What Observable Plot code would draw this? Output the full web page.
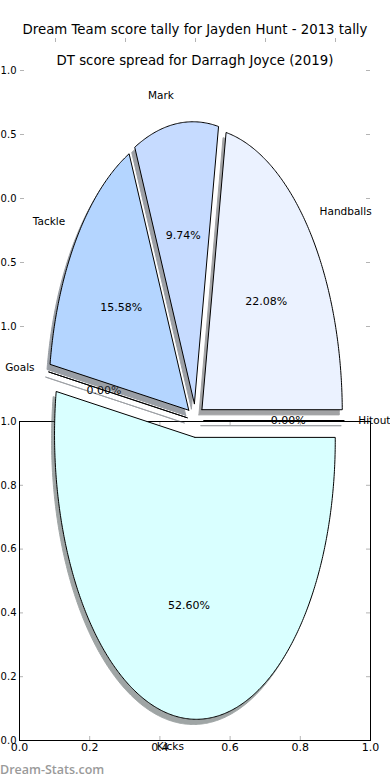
<!DOCTYPE html>
<html><head><meta charset="utf-8">
<script src="https://cdn.jsdelivr.net/npm/d3@7"></script>
<script src="https://cdn.jsdelivr.net/npm/@observablehq/plot@0.6"></script>
<style>
body{margin:0;background:#fff;}
#fig{position:relative;width:390px;height:780px;overflow:hidden;font-family:"DejaVu Sans",sans-serif;}
.title{position:absolute;left:0;width:390px;text-align:center;font-size:13.3px;line-height:15px;color:#000;white-space:nowrap;}
.mark{position:absolute;left:0;font-family:"Open Sans",sans-serif;font-weight:600;font-size:12.5px;line-height:15px;color:#9a9a9a;white-space:nowrap;}
</style></head><body><div id="fig"></div>
<script>
// ---- data ----
const categories = ["Kicks", "Hitout", "Handballs", "Mark", "Tackle", "Goals"];
const percentages = [52.60, 0.00, 22.08, 9.74, 15.58, 0.00];
const wedgeColors = ["#d9ffff", "#d2e6ff", "#ebf2ff", "#c6dbff", "#b4d5ff", "#cfe2ff"];
const explode = [0.06, 0.06, 0.06, 0.06, 0.06, 0.06];
const upperTicks = [-1, -0.5, 0, 0.5, 1];
const lowerTicks = [0, 0.2, 0.4, 0.6, 0.8, 1];
const titleOld = "Dream Team score tally for Jayden Hunt - 2013 tally";
const titleNew = "DT score spread for Darragh Joyce (2019)";
const watermark = "Dream-Stats.com";

// ---- layout ----
const W = 390, H = 780;
const pieCenterY = 420, pieRadiusY = 281;
const shearY = 0.082, shearX = 0.0714;
const labelDistance = 1.1, pctDistance = 0.6, shadowOffset = -0.02;
const font = "DejaVu Sans";
const tickGray = "#b4b4b4";

const fig = document.getElementById("fig");
function add(el) { el.style.position = "absolute"; el.style.left = "0"; el.style.top = "0"; fig.appendChild(el); return el; }
function addDiv(cls, text, top) { const d = document.createElement("div"); d.className = cls; d.textContent = text; d.style.top = top + "px"; fig.appendChild(d); }

// ---- pie geometry from the values ----
const rad = d => d * Math.PI / 180;
const toPlot = (X, Y) => ({x: X + shearX * Y, y: Y - shearY * X});
let angle = 270 - 3.6 * percentages[0] / 2;
const wedges = categories.map((name, i) => {
  const span = 3.6 * percentages[i];
  const t1 = angle, t2 = angle + span; angle = t2;
  const mid = rad((t1 + t2) / 2);
  const cx = explode[i] * Math.cos(mid), cy = explode[i] * Math.sin(mid);
  const raw = [[cx, cy]];
  const n = Math.max(1, Math.ceil(span / 0.5));
  if (span > 0) for (let j = 0; j <= n; j++) { const t = rad(t1 + span * j / n); raw.push([cx + Math.cos(t), cy + Math.sin(t)]); }
  else raw.push([cx + Math.cos(rad(t1)), cy + Math.sin(rad(t1))]);
  raw.push([cx, cy]);
  const c = d3.rgb(wedgeColors[i]);
  return {
    name, pct: percentages[i], color: wedgeColors[i],
    shadowColor: d3.rgb(c.r * 0.3, c.g * 0.3, c.b * 0.3).formatHex(),
    points: raw.map(([X, Y]) => toPlot(X, Y)),
    shadow: raw.map(([X, Y]) => toPlot(X + shadowOffset, Y + shadowOffset)),
    label: {...toPlot(cx + labelDistance * Math.cos(mid), cy + labelDistance * Math.sin(mid)), text: name, left: Math.cos(mid) > 0},
    pctLabel: {...toPlot(cx + pctDistance * Math.cos(mid), cy + pctDistance * Math.sin(mid)), text: percentages[i].toFixed(2) + "%", zero: percentages[i] === 0}
  };
});

const pieScales = {
  x: {domain: [-1.25, 1.25], range: [20, 370], axis: null},
  y: {domain: [(pieCenterY - H) / pieRadiusY, pieCenterY / pieRadiusY], range: [H, 0], axis: null}
};
const baseStyle = {background: "transparent", overflow: "visible", fontSize: "11px", fontFamily: font, color: "#000"};

// 1. upper (left-over) axes: ticks only
add(Plot.plot({
  width: W, height: H, marginLeft: 20, marginRight: 20, marginTop: 38, marginBottom: H - 358,
  x: {domain: [-1.25, 1.25], axis: null}, y: {domain: [-1.25, 1.25], axis: null},
  style: baseStyle,
  marks: [
    Plot.tickY(upperTicks, {y: d => d, stroke: tickGray, insetRight: 346}),
    Plot.tickY(upperTicks, {y: d => d, stroke: tickGray, insetLeft: 346}),
    Plot.tickX(upperTicks, {x: d => d, stroke: tickGray, insetBottom: 316}),
    Plot.axisY(upperTicks, {anchor: "left", tickSize: 0, tickPadding: 4, fontSize: 10, tickFormat: d => Math.abs(d).toFixed(1)})
  ]
}));

// 2. outer labels and zero percentages (underneath the lower axes lines)
const labels = wedges.map(w => w.label);
const zeroPcts = wedges.map(w => w.pctLabel).filter(d => d.zero);
add(Plot.plot({
  width: W, height: H, ...pieScales, style: baseStyle,
  marks: [
    Plot.text(labels.filter(d => d.left), {x: "x", y: "y", text: "text", textAnchor: "start", fontSize: 10.5}),
    Plot.text(labels.filter(d => !d.left), {x: "x", y: "y", text: "text", textAnchor: "end", fontSize: 10.5}),
    Plot.text(zeroPcts, {x: "x", y: "y", text: "text", fontSize: 11})
  ]
}));

// 3. lower axes
add(Plot.plot({
  width: W, height: H, marginLeft: 19, marginRight: 20, marginTop: 421, marginBottom: 40,
  x: {domain: [0, 1], axis: null}, y: {domain: [0, 1], axis: null},
  style: baseStyle,
  marks: [
    Plot.tickY(lowerTicks, {y: d => d, stroke: tickGray, insetRight: 347}),
    Plot.tickY(lowerTicks, {y: d => d, stroke: tickGray, insetLeft: 347}),
    Plot.tickX(lowerTicks, {x: d => d, stroke: tickGray, insetTop: 315}),
    Plot.tickX(lowerTicks, {x: d => d, stroke: tickGray, insetBottom: 315}),
    Plot.frame({stroke: "#000"}),
    Plot.axisX(lowerTicks, {anchor: "bottom", tickSize: 0, tickPadding: 3, fontSize: 11, tickFormat: d => d.toFixed(1)}),
    Plot.axisY(lowerTicks, {anchor: "left", tickSize: 0, tickPadding: 3, fontSize: 10, tickFormat: d => d.toFixed(1)})
  ]
}));

// 4. wedges with shadows and percentages
add(Plot.plot({
  width: W, height: H, ...pieScales, style: baseStyle,
  marks: [
    ...wedges.map(w => Plot.line(w.shadow, {x: "x", y: "y", fill: w.shadowColor, stroke: w.shadowColor, strokeWidth: 1, opacity: 0.5, strokeLinejoin: "miter"})),
    ...wedges.map(w => Plot.line(w.points, {x: "x", y: "y", fill: w.color, stroke: "#000", strokeWidth: 1, strokeLinejoin: "miter"})),
    Plot.text(wedges.map(w => w.pctLabel).filter(d => !d.zero), {x: "x", y: "y", text: "text", fontSize: 11})
  ]
}));

// 5. titles and watermark
addDiv("title", titleOld, 22);
addDiv("title", titleNew, 53);
addDiv("mark", watermark, 762);
</script></body></html>
